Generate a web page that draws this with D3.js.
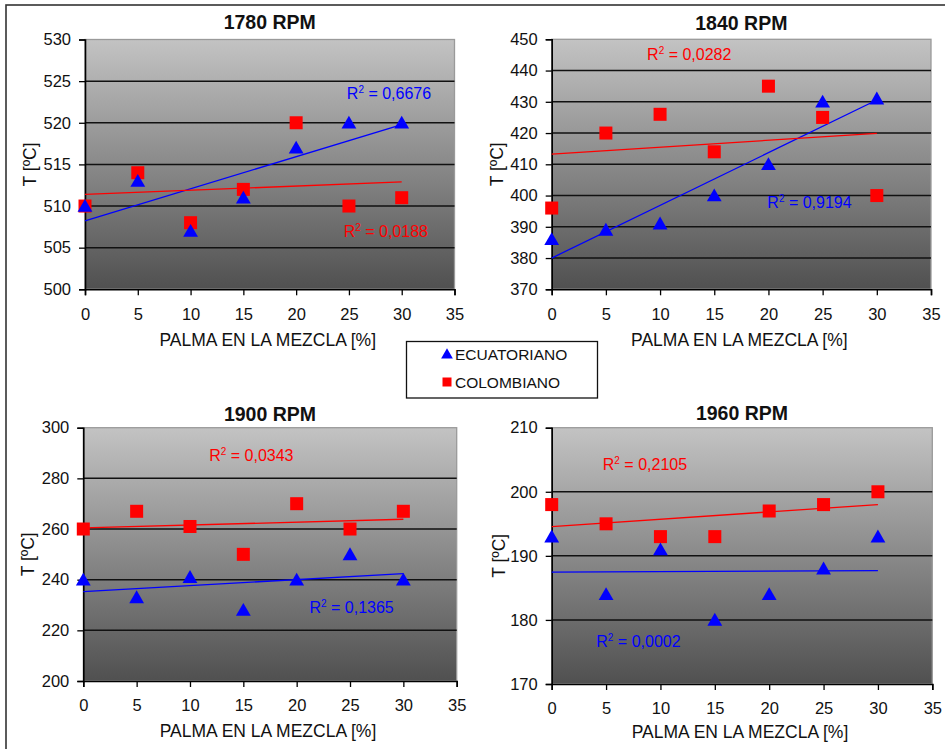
<!DOCTYPE html>
<html>
<head>
<meta charset="utf-8">
<script src="https://cdn.jsdelivr.net/npm/d3@7"></script>
<style>
  html, body { margin: 0; padding: 0; background: #ffffff; }
  svg { display: block; font-family: "Liberation Sans", Arial, sans-serif; }
</style>
</head>
<body>
<svg id="chart" width="945" height="749"></svg>
<script>
// ---------- DATA ----------
const xValues = [0, 5, 10, 15, 20, 25, 30];
const xTicks = [0, 5, 10, 15, 20, 25, 30, 35];

const titles = ["1780 RPM", "1840 RPM", "1900 RPM", "1960 RPM"];
const seriesNames = ["ECUATORIANO", "COLOMBIANO"];

const ecuatoriano1780 = [510, 513, 507, 511, 517, 520, 520];
const colombiano1780  = [510, 514, 508, 512, 520, 510, 511];
const ecuatoriano1840 = [386, 389, 391, 400, 410, 430, 431];
const colombiano1840  = [396, 420, 426, 414, 435, 425, 400];
const ecuatoriano1900 = [240, 233, 241, 228, 240, 250, 240];
const colombiano1900  = [260, 267, 261, 250, 270, 260, 267];
const ecuatoriano1960 = [193, 184, 191, 180, 184, 188, 193];
const colombiano1960  = [198, 195, 193, 193, 197, 198, 200];

const yTicks1780 = [500, 505, 510, 515, 520, 525, 530];
const yTicks1840 = [370, 380, 390, 400, 410, 420, 430, 440, 450];
const yTicks1900 = [200, 220, 240, 260, 280, 300];
const yTicks1960 = [170, 180, 190, 200, 210];

const r2Ecuatoriano = ["0,6676", "0,9194", "0,1365", "0,0002"];
const r2Colombiano  = ["0,0188", "0,0282", "0,0343", "0,2105"];

const xLabel = "PALMA EN LA MEZCLA [%]";
const yLabel = "T [ºC]";

// ---------- LAYOUT ----------
const colors = { ecu: "#0000ff", col: "#ff0000" };
const panels = [
  { title: titles[0], ecu: ecuatoriano1780, col: colombiano1780, yTicks: yTicks1780,
    r2e: r2Ecuatoriano[0], r2c: r2Colombiano[0],
    box: { x0: 85, x1: 454.5, y0: 39.5, y1: 289.3 }, titleY: 29.3,
    lblE: [24.8, 522.85], lblC: [24.5, 506.3], yTitleX: 30, xTitleY: 346, xTickY: 320 },
  { title: titles[1], ecu: ecuatoriano1840, col: colombiano1840, yTicks: yTicks1840,
    r2e: r2Ecuatoriano[1], r2c: r2Colombiano[1],
    box: { x0: 551.7, x1: 931, y0: 39.3, y1: 289.3 }, titleY: 29.5,
    lblE: [19.9, 396], lblC: [8.8, 443.4], yTitleX: 497, xTitleY: 346, xTickY: 320 },
  { title: titles[2], ecu: ecuatoriano1900, col: colombiano1900, yTicks: yTicks1900,
    r2e: r2Ecuatoriano[2], r2c: r2Colombiano[2],
    box: { x0: 83.3, x1: 456.7, y0: 427.7, y1: 681 }, titleY: 420.5,
    lblE: [21.2, 226.8], lblC: [11.8, 286.7], yTitleX: 28, xTitleY: 736.5, xTickY: 711 },
  { title: titles[3], ecu: ecuatoriano1960, col: colombiano1960, yTicks: yTicks1960,
    r2e: r2Ecuatoriano[3], r2c: r2Colombiano[3],
    box: { x0: 551.7, x1: 932.3, y0: 427.7, y1: 684 }, titleY: 419.5,
    lblE: [4.1, 175.8], lblC: [4.7, 203.4], yTitleX: 499, xTitleY: 738, xTickY: 714 }
];

const svg = d3.select("#chart");

// Figure border
svg.append("rect")
  .attr("x", 6).attr("y", 5).attr("width", 960).attr("height", 760)
  .attr("fill", "none").attr("stroke", "#333").attr("stroke-width", 1.6);

// gradient
const defs = svg.append("defs");
const grad = defs.append("linearGradient").attr("id", "bg")
  .attr("x1", 0).attr("y1", 0).attr("x2", 0).attr("y2", 1);
grad.append("stop").attr("offset", "0%").attr("stop-color", "#c3c3c3");
grad.append("stop").attr("offset", "100%").attr("stop-color", "#505050");

function linreg(xs, ys) {
  const n = xs.length;
  const mx = d3.mean(xs), my = d3.mean(ys);
  let sxy = 0, sxx = 0;
  for (let i = 0; i < n; i++) { sxy += (xs[i] - mx) * (ys[i] - my); sxx += (xs[i] - mx) ** 2; }
  const b = sxy / sxx;
  return { a: my - b * mx, b };
}

const triangle = d3.symbol().type(d3.symbolTriangle).size(95);

panels.forEach(p => {
  const b = p.box;
  const x = d3.scaleLinear().domain([0, 35]).range([b.x0, b.x1]);
  const yDom = d3.extent(p.yTicks);
  const y = d3.scaleLinear().domain(yDom).range([b.y1, b.y0]);
  const g = svg.append("g");

  // plot area background
  g.append("rect")
    .attr("x", b.x0).attr("y", b.y0)
    .attr("width", b.x1 - b.x0).attr("height", b.y1 - b.y0)
    .attr("fill", "url(#bg)")
    .attr("stroke", "#9a9a9a").attr("stroke-width", 1.3);

  // gridlines
  g.selectAll(".grid").data(p.yTicks.slice(1, -1)).enter().append("line")
    .attr("x1", b.x0).attr("x2", b.x1)
    .attr("y1", d => y(d)).attr("y2", d => y(d))
    .attr("stroke", "#111").attr("stroke-width", 1.5);

  // axes
  const yAxis = d3.axisLeft(y).tickValues(p.yTicks).tickSize(6).tickPadding(8).tickFormat(d3.format("d"));
  const xAxis = d3.axisBottom(x).tickValues(xTicks).tickSize(6).tickPadding(10).tickFormat(d3.format("d"));
  const ya = g.append("g").attr("transform", `translate(${b.x0},0)`).call(yAxis);
  const xa = g.append("g").attr("transform", `translate(0,${b.y1})`).call(xAxis);
  [ya, xa].forEach(a => {
    a.select(".domain").attr("stroke", "#000").attr("stroke-width", 1.6);
    a.selectAll(".tick line").attr("stroke", "#000").attr("stroke-width", 1.3);
    a.selectAll(".tick text").attr("fill", "#111").style("font-size", "16.5px")
      .style("font-family", "'Liberation Sans', Arial, sans-serif");
  });
  xa.selectAll(".tick text").attr("dy", null)
    .attr("y", p.xTickY - b.y1);

  // title
  g.append("text")
    .attr("x", (b.x0 + b.x1) / 2).attr("y", p.titleY)
    .attr("text-anchor", "middle")
    .style("font-size", "19.5px").style("font-weight", "bold")
    .attr("fill", "#111").text(p.title);

  // x title
  g.append("text")
    .attr("x", (b.x0 + b.x1) / 2 - 2).attr("y", p.xTitleY)
    .attr("text-anchor", "middle").style("font-size", "17.5px")
    .attr("fill", "#111").text(xLabel);

  // y title
  g.append("text")
    .attr("transform", `translate(${p.yTitleX + 6},${(b.y0 + b.y1) / 2}) rotate(-90)`)
    .attr("text-anchor", "middle").style("font-size", "17.5px")
    .attr("fill", "#111").text(yLabel);

  // trendlines
  [[p.ecu, colors.ecu], [p.col, colors.col]].forEach(([vals, c]) => {
    const r = linreg(xValues, vals);
    const x0 = d3.min(xValues), x1 = d3.max(xValues);
    g.append("line")
      .attr("x1", x(x0)).attr("y1", y(r.a + r.b * x0))
      .attr("x2", x(x1)).attr("y2", y(r.a + r.b * x1))
      .attr("stroke", c).attr("stroke-width", 1.3);
  });

  // markers: colombiano squares, ecuatoriano triangles
  g.selectAll(".sq").data(p.col).enter().append("rect")
    .attr("x", (d, i) => x(xValues[i]) - 6.5).attr("y", d => y(d) - 6.5)
    .attr("width", 13).attr("height", 13).attr("fill", colors.col);
  g.selectAll(".tri").data(p.ecu).enter().append("path")
    .attr("d", triangle)
    .attr("transform", (d, i) => `translate(${x(xValues[i])},${y(d) + 1.5})`)
    .attr("fill", colors.ecu);

  // R² labels
  function r2(pos, val, c) {
    const t = g.append("text")
      .attr("x", x(pos[0])).attr("y", y(pos[1]))
      .style("font-size", "16px").attr("fill", c);
    t.append("tspan").text("R");
    t.append("tspan").attr("dy", -6).style("font-size", "10px").text("2");
    t.append("tspan").attr("dy", 6).text(" = " + val);
  }
  r2(p.lblE, p.r2e, colors.ecu);
  r2(p.lblC, p.r2c, colors.col);
});

// Legend
const lg = svg.append("g");
lg.append("rect").attr("x", 406.5).attr("y", 341.5).attr("width", 191).attr("height", 56.5)
  .attr("fill", "#fff").attr("stroke", "#111").attr("stroke-width", 1.3);
lg.append("path").attr("d", d3.symbol().type(d3.symbolTriangle).size(60))
  .attr("transform", "translate(447,355)").attr("fill", colors.ecu);
lg.append("rect").attr("x", 442.5).attr("y", 377.5).attr("width", 9).attr("height", 9).attr("fill", colors.col);
lg.append("text").attr("x", 455).attr("y", 360).style("font-size", "15.5px").attr("fill", "#111").text(seriesNames[0]);
lg.append("text").attr("x", 455).attr("y", 387.5).style("font-size", "15.5px").attr("fill", "#111").text(seriesNames[1]);
</script>
</body>
</html>
